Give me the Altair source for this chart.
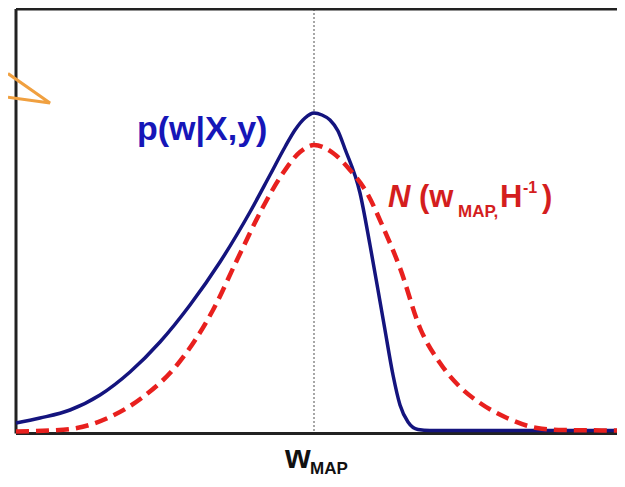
import altair as alt
import pandas as pd

# Posterior p(w|X,y) (solid blue)
post_w = [-2.98, -2.74, -2.44, -2.14, -1.84, -1.54, -1.24, -0.94, -0.64, -0.44,
          -0.29, -0.19, -0.09, 0.00, 0.08, 0.16, 0.24, 0.31, 0.46, 0.56,
          0.64, 0.71, 0.79, 0.86, 0.94, 1.04, 1.16, 1.66, 3.03]
post_p = [0.0175, 0.030, 0.050, 0.0875, 0.145, 0.22, 0.3125, 0.42, 0.545, 0.6375,
          0.7075, 0.75, 0.78, 0.7925, 0.7875, 0.775, 0.7475, 0.7025, 0.5925, 0.4625,
          0.35, 0.25, 0.1375, 0.0625, 0.02, 0.00125, -0.00125, -0.00125, -0.00125]

# Laplace approximation N(w_MAP, H^-1) (dashed red)
lap_w = [-2.98, -2.64, -2.37, -2.04, -1.71, -1.37, -1.01, -0.77, -0.51, -0.31,
         -0.14, 0.00, 0.19, 0.36, 0.53, 0.69, 0.86, 1.06, 1.26, 1.46,
         1.66, 1.93, 2.23, 2.49, 3.03]
lap_p = [-0.00375, -0.00125, 0.005, 0.0325, 0.0825, 0.1625, 0.30, 0.425, 0.5575, 0.6425,
         0.695, 0.7125, 0.6925, 0.65, 0.5925, 0.5075, 0.405, 0.255, 0.1675, 0.1075,
         0.0675, 0.03, 0.005, 0.0, -0.00125]

# Callout arrow outline (partially outside the frame)
arrow_w = [-3.06, -2.64, -3.06]
arrow_p = [0.891, 0.8175, 0.832]

w_map = [0.0]

X_DOM = [-2.98, 3.03]
Y_DOM = [-0.01, 1.0525]
W, H = 601, 425

xs = alt.Scale(domain=X_DOM, nice=False, zero=False)
ys = alt.Scale(domain=Y_DOM, nice=False, zero=False)

post = pd.DataFrame({"w": post_w, "p": post_p})
lap = pd.DataFrame({"w": lap_w, "p": lap_p})
arrow = pd.DataFrame({"w": arrow_w, "p": arrow_p, "i": list(range(len(arrow_w)))})
wm = pd.DataFrame({"w": w_map})
one = pd.DataFrame({"d": [0]})

X = alt.X("w:Q", scale=xs, axis=None)
Y = alt.Y("p:Q", scale=ys, axis=None)

frame_col = "#222222"
top = alt.Chart(one).mark_rule(color=frame_col, strokeWidth=3).encode(
    x=alt.value(0), x2=alt.value(W), y=alt.value(0))
left = alt.Chart(one).mark_rule(color=frame_col, strokeWidth=3).encode(
    x=alt.value(0), y=alt.value(0), y2=alt.value(424.5))
bottom = alt.Chart(one).mark_rule(color=frame_col, strokeWidth=3).encode(
    x=alt.value(0), x2=alt.value(W), y=alt.value(424.5))

vline = alt.Chart(wm).mark_rule(color="#8a8a8a", strokeWidth=1.5, strokeDash=[2, 2]).encode(
    x=X, y=alt.value(0), y2=alt.value(424.5))

blue = alt.Chart(post).mark_line(color="#14147e", strokeWidth=3.5, interpolate="monotone").encode(
    x=X, y=Y)
red = alt.Chart(lap).mark_line(color="#e8201e", strokeWidth=4.5, strokeDash=[13, 7],
                               interpolate="monotone").encode(x=X, y=Y)

arr = alt.Chart(arrow).mark_line(color="#f0a040", strokeWidth=3).encode(
    x=X, y=Y, order="i:Q")

FONT = "Liberation Sans"

def label(txt, x, y, size, color, style="normal"):
    return alt.Chart(one).mark_text(
        text=txt, font=FONT, fontSize=size, fontWeight="bold", fontStyle=style,
        color=color, align="left", baseline="alphabetic"
    ).encode(x=alt.value(x), y=alt.value(y))

blue_lbl = label("p(w|X,y)", 121, 131, 34, "#1616b8")
red_col = "#d41e1e"
n1 = label("N", 372, 198, 31, red_col, "italic")
n2 = label("(w", 403, 198, 31, red_col)
n3 = label("MAP,", 442, 208, 17, red_col)
n4 = label("H", 484, 198, 31, red_col)
n5 = label("-1", 507, 184, 16, red_col)
n6 = label(")", 526, 198, 31, red_col)

xw = label("w", 269, 459, 33, "#111111")
xm = label("MAP", 294, 465, 17, "#111111")

chart = alt.layer(
    vline, top, left, bottom, arr, blue, red,
    blue_lbl, n1, n2, n3, n4, n5, n6, xw, xm
).properties(
    width=W, height=H,
    autosize=alt.AutoSizeParams(type="none"),
    padding={"left": 8, "top": 1, "right": 0, "bottom": 45},
    background="white",
).configure_view(stroke=None)

chart.save("out.html", embed_options={"renderer": "svg", "actions": False})
